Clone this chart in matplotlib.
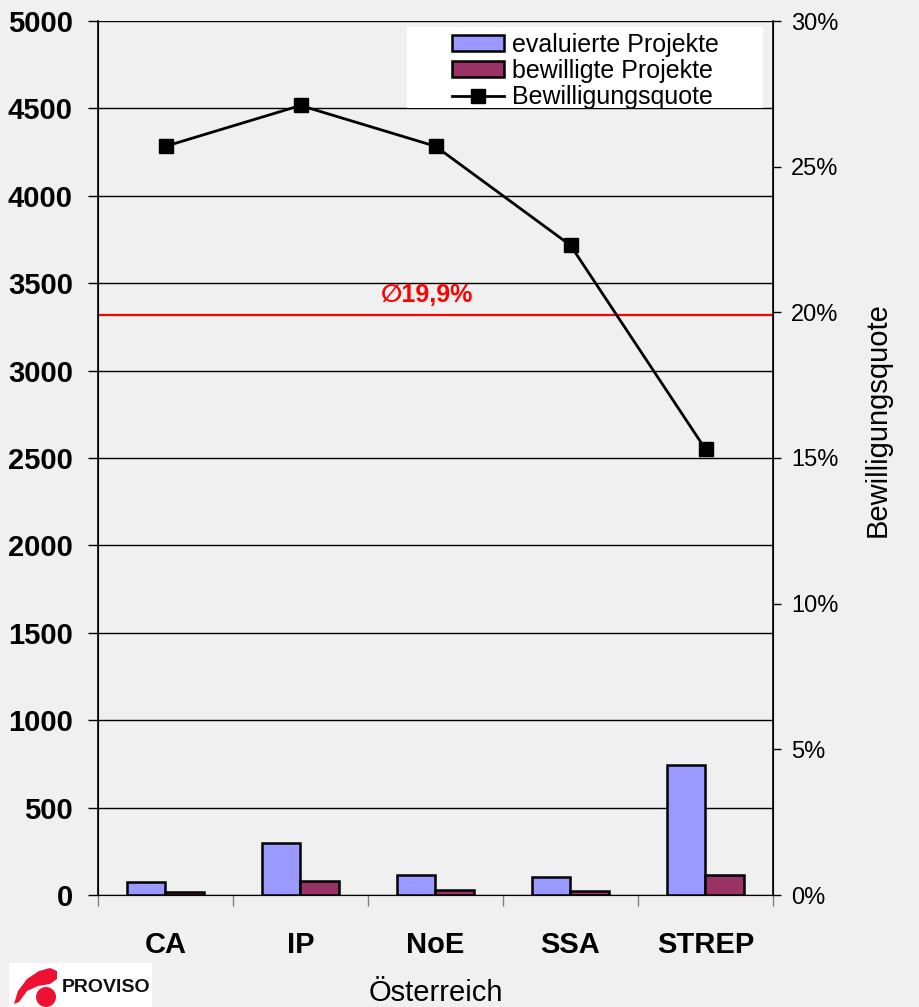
import matplotlib
matplotlib.use("Agg")
import matplotlib.pyplot as plt
import numpy as np
from matplotlib.patches import Patch, Polygon, Circle, Rectangle
from matplotlib.lines import Line2D

plt.rcParams["font.family"] = ["Liberation Sans", "DejaVu Sans"]

categories = ["CA", "IP", "NoE", "SSA", "STREP"]
evaluated = [74, 296, 117, 103, 746]
approved = [19, 80, 30, 23, 114]
approval_rate = [25.7, 27.1, 25.7, 22.3, 15.3]
average_rate = 19.9

bg = "#f0f0f0"
fig = plt.figure(figsize=(9.2, 10.07), dpi=100, facecolor=bg)
ax = fig.add_axes([98 / 920, 1 - 895 / 1007, 675 / 920, 874 / 1007])
ax.set_facecolor(bg)

x = np.arange(len(categories))
w = 0.285
ax.bar(x - w / 2, evaluated, w, color="#9999ff", edgecolor="black", linewidth=1.8, zorder=3)
ax.bar(x + w / 2, approved, w, color="#993366", edgecolor="black", linewidth=1.8, zorder=3)

ax.set_xlim(-0.5, len(categories) - 0.5)
ax.set_ylim(0, 5000)
ax.set_yticks(np.arange(0, 5001, 500))
ax.grid(axis="y", color="black", linewidth=1, zorder=0)
ax.tick_params(axis="y", direction="out", length=7, width=1, pad=11, labelsize=21)
for lbl in ax.get_yticklabels():
    lbl.set_fontweight("bold")

ax.set_xticks(x)
ax.set_xticklabels(categories, fontsize=21, fontweight="bold")
ax.tick_params(axis="x", which="major", length=0, pad=26)
ax.set_xticks(np.arange(-0.5, len(categories)), minor=True)
ax.tick_params(axis="x", which="minor", direction="out", length=8, width=1, color="#808080")
ax.set_xlabel("Österreich", fontsize=21, labelpad=14)

ax.spines["top"].set_visible(False)
ax.spines["bottom"].set_color("#808080")
ax.spines["left"].set_linewidth(1.2)

# approval rate on the secondary axis
ax2 = ax.twinx()
ax2.set_ylim(0, 30)
ax2.set_yticks(np.arange(0, 31, 5))
ax2.set_yticklabels([f"{v}%" for v in range(0, 31, 5)])
ax2.tick_params(axis="y", direction="out", length=6, width=1, pad=7, labelsize=17)
ax2.spines["top"].set_visible(False)
ax2.spines["right"].set_linewidth(1.2)
fig.text(878 / 920, 1 - 420 / 1007, "Bewilligungsquote", rotation=90,
         fontsize=21, ha="center", va="center")

ax2.axhline(average_rate, color="red", linewidth=1.6, zorder=2)
ax2.text(1.94, average_rate + 0.3, "\u2205" + f"{average_rate:.1f}".replace(".", ",") + "%",
         color="red", fontsize=18, fontweight="bold", ha="center", va="bottom")
ax2.plot(x, approval_rate, color="black", linewidth=2, marker="s", markersize=9.5,
         markerfacecolor="black", zorder=5)

# legend on a white panel
ax2.add_patch(Rectangle((0.4578, 0.9005), 0.5272, 0.0926, transform=ax2.transAxes,
                        facecolor="white", edgecolor="none", zorder=6))
handles = [
    Patch(facecolor="#9999ff", edgecolor="black", linewidth=1.8),
    Patch(facecolor="#993366", edgecolor="black", linewidth=1.8),
    Line2D([], [], color="black", linewidth=2, marker="s", markersize=9.5),
]
labels = ["evaluierte Projekte", "bewilligte Projekte", "Bewilligungsquote"]
leg = ax2.legend(handles, labels, loc="upper left", bbox_to_anchor=(0.5244, 0.986),
                 fontsize=18, frameon=False, handlelength=2.1, handleheight=0.6,
                 handletextpad=0.3, labelspacing=0.08, borderpad=0, borderaxespad=0)
leg.set_zorder(7)

# PROVISO logo
lax = fig.add_axes([9 / 920, 0, 143 / 920, 44 / 1007])
lax.set_xlim(9, 152)
lax.set_ylim(1007, 963)
lax.axis("off")
lax.add_patch(Rectangle((9, 963), 143, 44, facecolor="white", edgecolor="none"))
swoosh = [(14, 1004), (18, 991), (27, 979), (39, 971), (50, 968), (57, 971),
          (57, 979), (50, 984), (38, 986), (27, 991), (19, 1002)]
lax.add_patch(Polygon(swoosh, closed=True, facecolor="#ee1133", edgecolor="none"))
lax.add_patch(Circle((46, 997), 10, facecolor="#ee1133", edgecolor="none"))
lax.text(62, 988, "PROVISO", fontsize=14, fontweight="bold", color="#111111",
         ha="left", va="center")

fig.savefig("out.png", dpi=100, facecolor=bg)
